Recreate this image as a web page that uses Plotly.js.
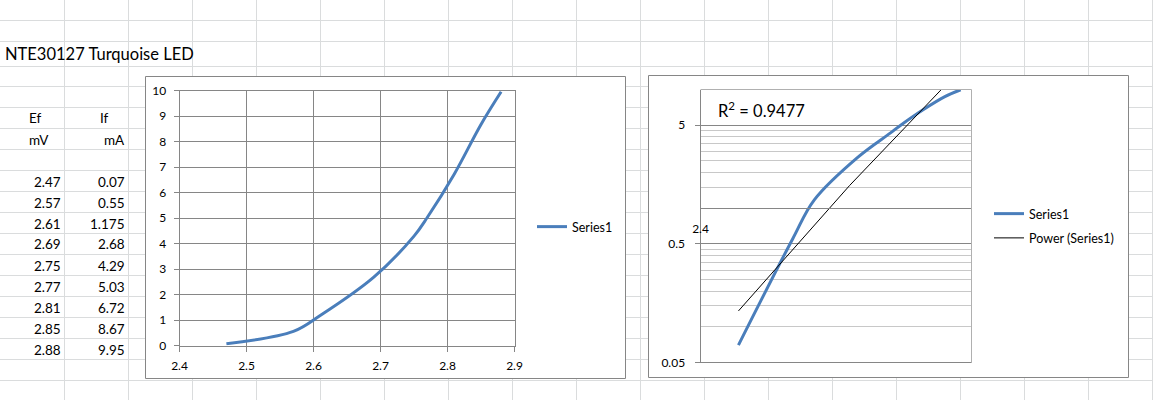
<!DOCTYPE html>
<html>
<head>
<meta charset="utf-8">
<script src="https://cdn.plot.ly/plotly-3.0.1.min.js"></script>
<style>
html,body{margin:0;padding:0;background:#fff;}
#chart{width:1153px;height:400px;}
</style>
</head>
<body>
<div id="chart"></div>
<script>
// ---- data ----
var sheetTitle = "NTE30127 Turquoise LED";
var colHeaders = ["Ef", "If"];
var colUnits = ["mV", "mA"];
var Ef = [2.47, 2.57, 2.61, 2.69, 2.75, 2.77, 2.81, 2.85, 2.88];
var If = [0.07, 0.55, 1.175, 2.68, 4.29, 5.03, 6.72, 8.67, 9.95];
var seriesName = "Series1";
var trendName = "Power (Series1)";
// power trendline
var trendX = [2.47, 2.675, 2.88];
var trendY = [0.136, 1.55, 14.8];
var r2Text = "R<sup>2</sup> = 0.9477";
var logTickVals = [0.05, 0.5, 5];
var logTickText = ["0.05", "0.5", "5"];
var logMinorVals = [0.1, 0.15, 0.2, 0.25, 0.3, 0.35, 0.4, 0.45, 1, 1.5, 2, 2.5, 3, 3.5, 4, 4.5];
var linTickVals = [2.4, 2.5, 2.6, 2.7, 2.8, 2.9];

// ---- geometry helpers (pixels -> paper) ----
var W = 1153, H = 400;
function px(x){ return x / W; }
function py(y){ return 1 - y / H; }

var FONT = "Lato, 'Open Sans', sans-serif";
var BLUE = "#4a7ebb";
var GRID = "#868686";
var SHEET = "#dadcdd";

var shapes = [];
// spreadsheet gridlines
for (var cx = 64.5; cx < W; cx += 64) {
  shapes.push({type:"line", xref:"paper", yref:"paper", x0:px(cx), x1:px(cx), y0:0, y1:1, line:{color:SHEET, width:1}, layer:"below"});
}
var rowLines = [20.5, 41.5, 66.5];
for (var ry = 86.5; ry < H; ry += 21) rowLines.push(ry);
rowLines.forEach(function(ry){
  shapes.push({type:"line", xref:"paper", yref:"paper", x0:0, x1:1, y0:py(ry), y1:py(ry), line:{color:SHEET, width:1}, layer:"below"});
});
// chart boxes
shapes.push({type:"rect", xref:"paper", yref:"paper", x0:px(145.5), x1:px(625.5), y0:py(378.5), y1:py(76.5), fillcolor:"#fff", line:{color:"#868686", width:1}, layer:"below"});
shapes.push({type:"rect", xref:"paper", yref:"paper", x0:px(648.5), x1:px(1128.5), y0:py(377.5), y1:py(75.5), fillcolor:"#fff", line:{color:"#868686", width:1}, layer:"below"});
// plot area border of log chart (top, right, bottom)
shapes.push({type:"line", xref:"x2 domain", yref:"y2 domain", x0:0, x1:1, y0:1, y1:1, line:{color:"#b0b0b0", width:1}});
shapes.push({type:"line", xref:"x2 domain", yref:"y2 domain", x0:1, x1:1, y0:0, y1:1, line:{color:"#b0b0b0", width:1}});
shapes.push({type:"line", xref:"x2 domain", yref:"y2 domain", x0:0, x1:1, y0:0, y1:0, line:{color:GRID, width:1}});

var annotations = [];
annotations.push({xref:"paper", yref:"paper", x:px(3), y:py(54), xanchor:"left", yanchor:"middle", text:sheetTitle, showarrow:false, font:{family:FONT, size:16.5, color:"#000"}});
var tf = {family:FONT, size:13.5, color:"#000"};
annotations.push({xref:"paper", yref:"paper", x:px(27), y:py(118), xanchor:"left", yanchor:"middle", text:colHeaders[0], showarrow:false, font:tf});
annotations.push({xref:"paper", yref:"paper", x:px(98), y:py(118), xanchor:"left", yanchor:"middle", text:colHeaders[1], showarrow:false, font:tf});
annotations.push({xref:"paper", yref:"paper", x:px(27), y:py(140), xanchor:"left", yanchor:"middle", text:colUnits[0], showarrow:false, font:tf});
annotations.push({xref:"paper", yref:"paper", x:px(102), y:py(140), xanchor:"left", yanchor:"middle", text:colUnits[1], showarrow:false, font:tf});
for (var i = 0; i < Ef.length; i++) {
  var rowY = 181.5 + 21 * i;
  annotations.push({xref:"paper", yref:"paper", x:px(63), y:py(rowY), xanchor:"right", yanchor:"middle", text:String(Ef[i]), showarrow:false, font:tf});
  annotations.push({xref:"paper", yref:"paper", x:px(127), y:py(rowY), xanchor:"right", yanchor:"middle", text:String(If[i]), showarrow:false, font:tf});
}
annotations.push({xref:"paper", yref:"paper", x:px(716), y:py(110), xanchor:"left", yanchor:"middle", text:r2Text, showarrow:false, font:{family:FONT, size:16.5, color:"#000"}});

var tickFont = {family:FONT, size:12, color:"#000"};

var traces = [
  {x:Ef, y:If, xaxis:"x", yaxis:"y", type:"scatter", mode:"lines", name:seriesName,
   line:{color:BLUE, width:3, shape:"spline", smoothing:1}, legend:"legend", hoverinfo:"skip"},
  {x:Ef, y:If, xaxis:"x2", yaxis:"y2", type:"scatter", mode:"lines", name:seriesName,
   line:{color:BLUE, width:3, shape:"spline", smoothing:1}, legend:"legend2", legendgroup:"a", hoverinfo:"skip"},
  {x:trendX, y:trendY, xaxis:"x2", yaxis:"y2", type:"scatter", mode:"lines", name:trendName,
   line:{color:"#000", width:1}, legend:"legend2", legendgroup:"b", hoverinfo:"skip"}
];

var y2lo = Math.log10(0.05), y2hi = 1;
var y2dom = [py(362.5), py(89.5)];
var x2pos = y2dom[0] + (0 - y2lo) / (y2hi - y2lo) * (y2dom[1] - y2dom[0]);

var layout = {
  width: W, height: H, autosize:false,
  margin:{l:0, r:0, t:0, b:0, pad:0},
  paper_bgcolor:"rgba(0,0,0,0)", plot_bgcolor:"rgba(0,0,0,0)",
  font:{family:FONT, color:"#000"},
  showlegend:true,
  xaxis:{domain:[px(179.5), px(514.5)], range:[2.4, 2.9], tickvals:linTickVals, ticktext:linTickVals.map(String),
    showgrid:true, gridcolor:GRID, gridwidth:1, zeroline:false, showline:true, linecolor:GRID, mirror:true,
    ticks:"outside", ticklen:5, tickcolor:GRID, tickfont:tickFont, ticklabelstandoff:4, anchor:"y", fixedrange:true},
  yaxis:{domain:[py(345.5), py(90.5)], range:[0, 10], dtick:1, tick0:0,
    showgrid:true, gridcolor:GRID, gridwidth:1, zeroline:false, showline:true, linecolor:GRID, mirror:true,
    ticks:"outside", ticklen:5, tickcolor:GRID, tickfont:tickFont, ticklabelstandoff:5, anchor:"x", fixedrange:true},
  xaxis2:{domain:[px(700.5), px(971.5)], range:[2.4, 2.9], anchor:"free", position:x2pos,
    tickvals:[2.4], ticktext:["2.4"], ticks:"", showgrid:false, zeroline:false,
    showline:true, linecolor:GRID, tickfont:tickFont, ticklabelstandoff:9, fixedrange:true},
  yaxis2:{domain:y2dom, type:"log", range:[y2lo, y2hi], anchor:"x2",
    tickvals:logTickVals, ticktext:logTickText, showgrid:true, gridcolor:GRID, gridwidth:1,
    minor:{tickvals:logMinorVals, showgrid:true, gridcolor:"#c8c8c8", gridwidth:1, ticks:""},
    zeroline:false, showline:true, linecolor:GRID, ticks:"outside", ticklen:5, tickcolor:GRID,
    tickfont:tickFont, ticklabelstandoff:7, fixedrange:true},
  legend:{x:px(532), y:py(227), xanchor:"left", yanchor:"middle", bgcolor:"rgba(0,0,0,0)",
    font:{family:FONT, size:12.5, color:"#000"}, itemwidth:30, borderwidth:0},
  legend2:{x:px(989), y:py(226), xanchor:"left", yanchor:"middle", bgcolor:"rgba(0,0,0,0)",
    font:{family:FONT, size:12.5, color:"#000"}, itemwidth:30, borderwidth:0, tracegroupgap:5},
  shapes: shapes,
  annotations: annotations
};

Plotly.newPlot("chart", traces, layout, {displayModeBar:false, staticPlot:true});
</script>
</body>
</html>
